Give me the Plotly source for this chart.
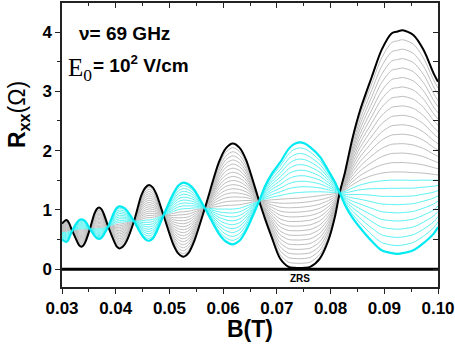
import plotly.graph_objects as go

# Magnetic field B (T)
B = [0.0300, 0.0308, 0.03108, 0.03135, 0.0319, 0.0328, 0.0332, 0.0336, 0.0340, 0.0344,
     0.0352, 0.0360, 0.03645, 0.0369, 0.03733, 0.03775, 0.0386, 0.0397, 0.0402, 0.0407,
     0.04135, 0.0420, 0.0434, 0.04475, 0.04548, 0.0462, 0.04688, 0.04755, 0.0489, 0.05075,
     0.05168, 0.0526, 0.0536, 0.0546, 0.0566, 0.0592, 0.0605, 0.0618, 0.06303, 0.06425,
     0.0667, 0.0678, 0.0690, 0.0706, 0.0722, 0.0732, 0.0742, 0.0752, 0.0762, 0.0780,
     0.0796, 0.0808, 0.0817, 0.0827, 0.0840, 0.0855, 0.0877, 0.0895, 0.0914, 0.0925,
     0.0934, 0.0954, 0.0973, 0.0992, 0.1000]

# Extreme curve (black, bold)
R_black = [0.77, 0.83, 0.814, 0.77, 0.65, 0.47, 0.403, 0.38, 0.403, 0.47,
           0.68, 0.93, 1.011, 1.04, 1.014, 0.94, 0.72, 0.47, 0.381, 0.35,
           0.381, 0.47, 0.81, 1.24, 1.373, 1.42, 1.381, 1.27, 0.91, 0.41,
           0.262, 0.21, 0.278, 0.47, 1.03, 1.80, 2.037, 2.12, 2.05, 1.85,
           1.15, 0.85, 0.55, 0.18, 0.04, 0.025, 0.02, 0.025, 0.04, 0.18,
           0.49, 0.88, 1.29, 1.64, 2.18, 2.68, 3.25, 3.70, 3.98, 4.01,
           4.03, 3.95, 3.70, 3.30, 3.16]

# Flattest curve (boundary between grey and cyan families)
R_middle = [0.63, 0.64, 0.642, 0.645, 0.65, 0.66, 0.663, 0.665, 0.667, 0.67,
            0.68, 0.69, 0.697, 0.70, 0.703, 0.71, 0.72, 0.74, 0.755, 0.76,
            0.767, 0.785, 0.81, 0.84, 0.862, 0.87, 0.875, 0.89, 0.91, 0.94,
            0.962, 0.97, 0.978, 1.00, 1.03, 1.06, 1.075, 1.08, 1.088, 1.11,
            1.15, 1.16, 1.17, 1.18, 1.19, 1.195, 1.20, 1.21, 1.22, 1.24,
            1.26, 1.275, 1.29, 1.34, 1.42, 1.50, 1.58, 1.62, 1.64, 1.64,
            1.64, 1.63, 1.62, 1.60, 1.59]

# Opposite extreme curve (cyan, bold)
R_cyan = [0.50, 0.46, 0.478, 0.53, 0.65, 0.79, 0.827, 0.84, 0.83, 0.80,
          0.68, 0.57, 0.526, 0.51, 0.528, 0.58, 0.72, 0.96, 1.034, 1.06,
          1.044, 1.00, 0.81, 0.59, 0.509, 0.48, 0.516, 0.62, 0.91, 1.28,
          1.413, 1.46, 1.429, 1.34, 1.03, 0.60, 0.467, 0.42, 0.48, 0.65,
          1.15, 1.40, 1.60, 1.80, 2.03, 2.11, 2.14, 2.12, 2.06, 1.90,
          1.66, 1.47, 1.29, 1.08, 0.88, 0.70, 0.47, 0.32, 0.27, 0.26,
          0.27, 0.32, 0.44, 0.60, 0.71]

# number of curves in each family
N_GREY = 15
N_CYAN = 10

zrs_B = [0.03, 0.10]
zrs_R = [0, 0]

x_ticks = [0.03, 0.04, 0.05, 0.06, 0.07, 0.08, 0.09, 0.10]
x_ticklabels = ["0.03", "0.04", "0.05", "0.06", "0.07", "0.08", "0.09", "0.10"]
y_ticks = [0, 1, 2, 3, 4]

fig = go.Figure()

def blend(a, b, t):
    return [(1 - t) * u + t * v for u, v in zip(a, b)]

SM = 0.8
common = dict(mode="lines", line_shape="spline", hoverinfo="skip", showlegend=False)

# grey family: black -> middle
for k in range(1, N_GREY + 1):
    t = k / N_GREY
    fig.add_trace(go.Scatter(x=B, y=blend(R_black, R_middle, t),
                             line=dict(color="#bdbdbd", width=1, smoothing=SM), **common))
# cyan family: middle -> cyan
for k in range(1, N_CYAN):
    t = k / N_CYAN
    fig.add_trace(go.Scatter(x=B, y=blend(R_middle, R_cyan, t),
                             line=dict(color="#5cf2f2", width=1, smoothing=SM), **common))

fig.add_trace(go.Scatter(x=B, y=R_black, line=dict(color="black", width=2, smoothing=SM), **common))
fig.add_trace(go.Scatter(x=B, y=R_cyan, line=dict(color="#00eaf2", width=2.2, smoothing=SM), **common))

fig.add_trace(go.Scatter(x=zrs_B, y=zrs_R, mode="lines", line=dict(color="black", width=3),
                         hoverinfo="skip", showlegend=False))

# invisible trace for mirrored (inner-tick) axes
fig.add_trace(go.Scatter(x=[0.05], y=[1], xaxis="x2", yaxis="y2", mode="markers",
                         marker=dict(opacity=0), hoverinfo="skip", showlegend=False))

XR = [0.03, 0.10]
YR = [-0.30, 4.49]
axcol = "#222222"
FONT = "Arial, Liberation Sans, sans-serif"

fig.update_layout(
    width=455, height=347,
    margin=dict(l=62, r=17, t=3, b=60, autoexpand=False),
    plot_bgcolor="white", paper_bgcolor="white",
    font=dict(family=FONT, color="black"),
    xaxis=dict(range=XR, tickvals=x_ticks, ticktext=x_ticklabels, showgrid=False, zeroline=False,
               automargin=False,
               showline=True, linecolor=axcol, linewidth=1.5,
               ticks="outside", ticklen=5, tickwidth=1.2, tickcolor=axcol,
               tickfont=dict(size=17, weight="bold", family=FONT),
               minor=dict(ticks="outside", ticklen=3, tickcolor=axcol, dtick=0.005, tick0=0.03, showgrid=False)),
    yaxis=dict(range=YR, tickvals=y_ticks, showgrid=False, zeroline=False,
               automargin=False,
               showline=True, linecolor=axcol, linewidth=1.5,
               ticks="outside", ticklen=5, tickwidth=1.2, tickcolor=axcol,
               tickfont=dict(size=17, weight="bold", family=FONT),
               minor=dict(ticks="outside", ticklen=3, tickcolor=axcol, dtick=0.5, tick0=0, showgrid=False)),
    xaxis2=dict(range=XR, overlaying="x", side="top", anchor="y2", showgrid=False, zeroline=False,
                automargin=False,
                showline=True, linecolor=axcol, linewidth=1.5, showticklabels=False,
                tickvals=x_ticks, ticks="inside", ticklen=5, tickwidth=1.2, tickcolor=axcol,
                minor=dict(ticks="inside", ticklen=3, tickcolor=axcol, dtick=0.005, tick0=0.03)),
    yaxis2=dict(range=YR, overlaying="y", side="right", anchor="x2", showgrid=False, zeroline=False,
                automargin=False,
                showline=True, linecolor=axcol, linewidth=1.5, showticklabels=False,
                tickvals=y_ticks, ticks="inside", ticklen=5, tickwidth=1.2, tickcolor=axcol,
                minor=dict(ticks="inside", ticklen=5, tickcolor=axcol, dtick=0.5, tick0=0)),
)

def px_x(p):
    return (p - 62) / 376.0

def px_y(p):
    return (287 - p) / 284.0

ann = []
ann.append(dict(text="<b>ν= 69 GHz</b>", xref="paper", yref="paper", x=px_x(77), y=px_y(34),
                xanchor="left", yanchor="middle", showarrow=False,
                font=dict(size=19, family=FONT)))
ann.append(dict(text="E<sub>0</sub>", xref="paper", yref="paper", x=px_x(66), y=px_y(69),
                xanchor="left", yanchor="middle", showarrow=False,
                font=dict(size=25, family="Liberation Serif, Times New Roman, serif")))
ann.append(dict(text="<b>= 10<sup>2</sup> V/cm</b>", xref="paper", yref="paper", x=px_x(91), y=px_y(64),
                xanchor="left", yanchor="middle", showarrow=False,
                font=dict(size=19, family=FONT)))
ann.append(dict(text="<b>R<sub>xx</sub></b>(Ω)", xref="paper", yref="paper", x=px_x(18), y=px_y(115),
                xanchor="center", yanchor="middle", showarrow=False, textangle=-90,
                font=dict(size=23, family=FONT)))
ann.append(dict(text="<b>B(T)</b>", xref="paper", yref="paper", x=px_x(250), y=px_y(329),
                xanchor="center", yanchor="middle", showarrow=False,
                font=dict(size=23, family=FONT)))
ann.append(dict(text="<b>ZRS</b>", xref="x", yref="y", x=0.0743, y=-0.15,
                xanchor="center", yanchor="middle", showarrow=False,
                font=dict(size=10, family=FONT)))
fig.update_layout(annotations=ann)

fig.write_html("out.html", config={"displayModeBar": False},
               post_script="document.body.style.margin='0px';document.body.style.padding='0px';")
